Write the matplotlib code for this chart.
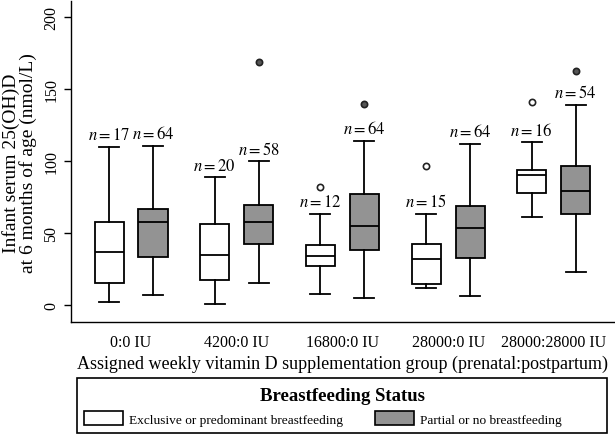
import matplotlib
matplotlib.use("Agg")
import matplotlib.pyplot as plt
from matplotlib.patches import Patch, Rectangle

plt.rcParams['font.family'] = ['Liberation Serif', 'DejaVu Serif']
plt.rcParams['mathtext.fontset'] = 'stix'

groups = ["0:0 IU", "4200:0 IU", "16800:0 IU", "28000:0 IU", "28000:28000 IU"]

# Exclusive / predominant breastfeeding (white)
ex_whislo = [2.3, 0.7, 8.1, 12.4, 61.1]
ex_q1     = [15.2, 17.3, 27.6, 15.0, 77.9]
ex_med    = [37.0, 35.0, 34.3, 32.5, 90.5]
ex_q3     = [58.0, 56.5, 42.2, 42.8, 93.8]
ex_whishi = [110.0, 88.7, 63.4, 63.6, 113.1]
ex_fliers = [[], [], [81.8], [96.5], [141.0]]
ex_n      = [17, 20, 12, 15, 16]

# Partial / no breastfeeding (gray)
pa_whislo = [7.4, 15.2, 5.3, 6.5, 23.3]
pa_q1     = [33.9, 42.8, 38.5, 33.2, 63.2]
pa_med    = [57.6, 57.6, 55.3, 53.5, 79.5]
pa_q3     = [67.0, 69.8, 77.0, 69.1, 96.8]
pa_whishi = [110.8, 99.8, 114.0, 112.2, 139.2]
pa_fliers = [[], [169.0], [139.4], [], [162.7]]
pa_n      = [64, 58, 64, 64, 54]

GRAY = '#939393'
FLIER_GRAY = '#555555'

fig = plt.figure(figsize=(6.15, 4.35), dpi=100)
ax = fig.add_axes([71/615, 1-323/435, (614-71)/615, (323-2)/435])

def stats(lo, q1, med, q3, hi, fl):
    return [dict(whislo=a, q1=b, med=c, q3=d, whishi=e, fliers=f)
            for a, b, c, d, e, f in zip(lo, q1, med, q3, hi, fl)]

centers = list(range(1, len(groups) + 1))
off = 0.208
bw = 0.275
cw = 0.19
lw = 1.3

for st, pos_off, face, fcol, ns in [
        (stats(ex_whislo, ex_q1, ex_med, ex_q3, ex_whishi, ex_fliers), -off, 'white', 'white', ex_n),
        (stats(pa_whislo, pa_q1, pa_med, pa_q3, pa_whishi, pa_fliers), off, GRAY, FLIER_GRAY, pa_n)]:
    pos = [c + pos_off for c in centers]
    ax.bxp(st, positions=pos, widths=bw, patch_artist=True, manage_ticks=False,
           capwidths=[cw] * len(pos),
           boxprops=dict(facecolor=face, edgecolor='black', linewidth=lw),
           medianprops=dict(color='black', linewidth=lw),
           whiskerprops=dict(color='black', linewidth=lw),
           capprops=dict(color='black', linewidth=lw),
           flierprops=dict(marker='o', markerfacecolor=fcol, markeredgecolor='#222222',
                           markersize=4.5, markeredgewidth=1.2))
    for p, s, n in zip(pos, st, ns):
        ax.annotate(r'$n = %d$' % n, (p, s['whishi']), xytext=(0, 2.5),
                    textcoords='offset points', ha='center', va='bottom', fontsize=12)

ax.set_xlim(0.432, 5.57)
ax.set_ylim(-11.5, 211)
ax.set_xticks(centers)
ax.set_xticklabels(groups, fontsize=11.5)
ax.tick_params(axis='x', length=0, pad=9)
ax.set_yticks([0, 50, 100, 150, 200])
ax.tick_params(axis='y', labelsize=11.5, length=5, width=1, labelrotation=90)
for lab in ax.get_yticklabels():
    lab.set_va('center')
ax.spines['top'].set_visible(False)
ax.spines['right'].set_visible(False)
ax.spines['left'].set_linewidth(1)
ax.spines['bottom'].set_linewidth(1)
ax.set_xlabel('Assigned weekly vitamin D supplementation group (prenatal:postpartum)', fontsize=13, labelpad=3)
ax.set_ylabel('Infant serum 25(OH)D\nat 6 months of age (nmol/L)', fontsize=14, linespacing=0.95)
ax.yaxis.set_label_coords((37 - 71) / 543, 0.497)

# Legend box
fig.patches.append(Rectangle((76.7/615, 1-434/435), (606.7-76.7)/615, (434-379.3)/435,
                             transform=fig.transFigure, fill=False, edgecolor='black', linewidth=1.2))
fig.text(342/615, 1-397/435, 'Breastfeeding Status', ha='center', va='center',
         fontsize=13.5, fontweight='bold')
handles = [Patch(facecolor='white', edgecolor='black', linewidth=1.2),
           Patch(facecolor=GRAY, edgecolor='black', linewidth=1.2)]
labels = ['Exclusive or predominant breastfeeding', 'Partial or no breastfeeding']
fig.legend(handles, labels, loc='center left', bbox_to_anchor=(84.3/615, 1-419.5/435),
           ncol=2, frameon=False, fontsize=9.6, handlelength=2.9, handleheight=1.15,
           handletextpad=0.45, columnspacing=2.4, borderpad=0, borderaxespad=0)

fig.savefig('out.png', dpi=100)
